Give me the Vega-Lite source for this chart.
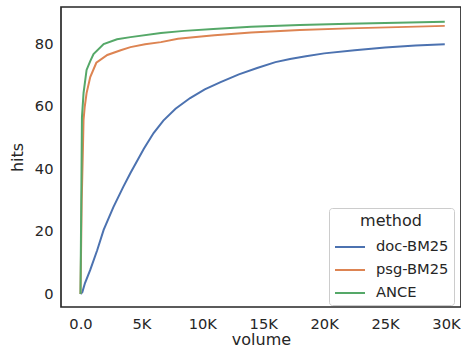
{
  "$schema": "https://vega.github.io/schema/vega-lite/v6.json",
  "width": 400,
  "height": 300,
  "autosize": {"type": "none"},
  "padding": {"left": 61, "top": 7, "right": 0, "bottom": 47},
  "config": {
    "font": "DejaVu Sans",
    "view": {"stroke": "#262626", "strokeWidth": 1.67},
    "axis": {
      "domain": false, "ticks": false, "grid": false,
      "labelFont": "DejaVu Sans", "labelFontSize": 14.67, "labelColor": "#262626",
      "titleFont": "DejaVu Sans", "titleFontSize": 16, "titleFontWeight": "normal", "titleColor": "#262626"
    },
    "legend": {
      "orient": "none", "legendX": 268, "legendY": 201,
      "strokeColor": "#cccccc", "fillColor": "white", "cornerRadius": 3, "padding": 5,
      "titleFont": "DejaVu Sans", "titleFontSize": 16, "titleFontWeight": "normal", "titleColor": "#262626",
      "titleAnchor": "middle", "titlePadding": 2,
      "labelFont": "DejaVu Sans", "labelFontSize": 14.67, "labelColor": "#262626",
      "symbolType": "stroke", "symbolSize": 900, "symbolStrokeWidth": 2,
      "rowPadding": -12, "labelOffset": 10
    }
  },
  "data": {
    "values": [
      {"method": "doc-BM25", "volume": 0, "hits": 0},
      {"method": "doc-BM25", "volume": 150, "hits": 0.6},
      {"method": "doc-BM25", "volume": 370, "hits": 3.5},
      {"method": "doc-BM25", "volume": 800, "hits": 7.7},
      {"method": "doc-BM25", "volume": 1370, "hits": 14},
      {"method": "doc-BM25", "volume": 1900, "hits": 20.5},
      {"method": "doc-BM25", "volume": 2700, "hits": 27.8},
      {"method": "doc-BM25", "volume": 3500, "hits": 34.2},
      {"method": "doc-BM25", "volume": 4100, "hits": 38.7},
      {"method": "doc-BM25", "volume": 5200, "hits": 46.5},
      {"method": "doc-BM25", "volume": 6000, "hits": 51.5},
      {"method": "doc-BM25", "volume": 6800, "hits": 55.5},
      {"method": "doc-BM25", "volume": 7800, "hits": 59.3},
      {"method": "doc-BM25", "volume": 9000, "hits": 62.7},
      {"method": "doc-BM25", "volume": 10200, "hits": 65.5},
      {"method": "doc-BM25", "volume": 11500, "hits": 67.8},
      {"method": "doc-BM25", "volume": 13000, "hits": 70.3},
      {"method": "doc-BM25", "volume": 14500, "hits": 72.3},
      {"method": "doc-BM25", "volume": 16000, "hits": 74.2},
      {"method": "doc-BM25", "volume": 17200, "hits": 75.2},
      {"method": "doc-BM25", "volume": 18500, "hits": 76.1},
      {"method": "doc-BM25", "volume": 20000, "hits": 77},
      {"method": "doc-BM25", "volume": 22500, "hits": 78},
      {"method": "doc-BM25", "volume": 25000, "hits": 78.9},
      {"method": "doc-BM25", "volume": 27500, "hits": 79.5},
      {"method": "doc-BM25", "volume": 29900, "hits": 79.9},
      {"method": "psg-BM25", "volume": 0, "hits": 0},
      {"method": "psg-BM25", "volume": 100, "hits": 30},
      {"method": "psg-BM25", "volume": 200, "hits": 46.7},
      {"method": "psg-BM25", "volume": 250, "hits": 55.7},
      {"method": "psg-BM25", "volume": 350, "hits": 60},
      {"method": "psg-BM25", "volume": 500, "hits": 64.3},
      {"method": "psg-BM25", "volume": 800, "hits": 69.4},
      {"method": "psg-BM25", "volume": 1300, "hits": 74},
      {"method": "psg-BM25", "volume": 2200, "hits": 76.5},
      {"method": "psg-BM25", "volume": 3300, "hits": 78},
      {"method": "psg-BM25", "volume": 4100, "hits": 79},
      {"method": "psg-BM25", "volume": 5300, "hits": 79.9},
      {"method": "psg-BM25", "volume": 6600, "hits": 80.6},
      {"method": "psg-BM25", "volume": 8000, "hits": 81.7},
      {"method": "psg-BM25", "volume": 9900, "hits": 82.4},
      {"method": "psg-BM25", "volume": 11000, "hits": 82.8},
      {"method": "psg-BM25", "volume": 14000, "hits": 83.7},
      {"method": "psg-BM25", "volume": 18000, "hits": 84.5},
      {"method": "psg-BM25", "volume": 22000, "hits": 85},
      {"method": "psg-BM25", "volume": 26000, "hits": 85.4},
      {"method": "psg-BM25", "volume": 29900, "hits": 85.8},
      {"method": "ANCE", "volume": 0, "hits": 0},
      {"method": "ANCE", "volume": 120, "hits": 56.6},
      {"method": "ANCE", "volume": 250, "hits": 64.3},
      {"method": "ANCE", "volume": 500, "hits": 71.7},
      {"method": "ANCE", "volume": 800, "hits": 74.5},
      {"method": "ANCE", "volume": 1070, "hits": 76.8},
      {"method": "ANCE", "volume": 1900, "hits": 80},
      {"method": "ANCE", "volume": 3000, "hits": 81.5},
      {"method": "ANCE", "volume": 4100, "hits": 82.2},
      {"method": "ANCE", "volume": 6600, "hits": 83.5},
      {"method": "ANCE", "volume": 8500, "hits": 84.2},
      {"method": "ANCE", "volume": 10900, "hits": 84.8},
      {"method": "ANCE", "volume": 14000, "hits": 85.5},
      {"method": "ANCE", "volume": 18000, "hits": 86.1},
      {"method": "ANCE", "volume": 22000, "hits": 86.5},
      {"method": "ANCE", "volume": 26000, "hits": 86.8},
      {"method": "ANCE", "volume": 29900, "hits": 87.1}
    ]
  },
  "mark": {"type": "line", "strokeWidth": 2, "clip": true},
  "encoding": {
    "x": {
      "field": "volume", "type": "quantitative",
      "scale": {"domain": [-1600, 31232], "nice": false, "zero": false},
      "axis": {
        "values": [0, 5000, 10000, 15000, 20000, 25000, 30000],
        "labelExpr": "datum.value == 0 ? '0.0' : (datum.value / 1000) + 'K'",
        "labelPadding": 9, "title": "volume", "titlePadding": 1
      }
    },
    "y": {
      "field": "hits", "type": "quantitative",
      "scale": {"domain": [-4.16, 91.84], "nice": false, "zero": false},
      "axis": {"values": [0, 20, 40, 60, 80], "labelPadding": 8, "title": "hits", "titlePadding": 9}
    },
    "color": {
      "field": "method", "type": "nominal",
      "scale": {"domain": ["doc-BM25", "psg-BM25", "ANCE"], "range": ["#4c72b0", "#dd8452", "#55a868"]},
      "legend": {"title": "method"}
    }
  }
}
